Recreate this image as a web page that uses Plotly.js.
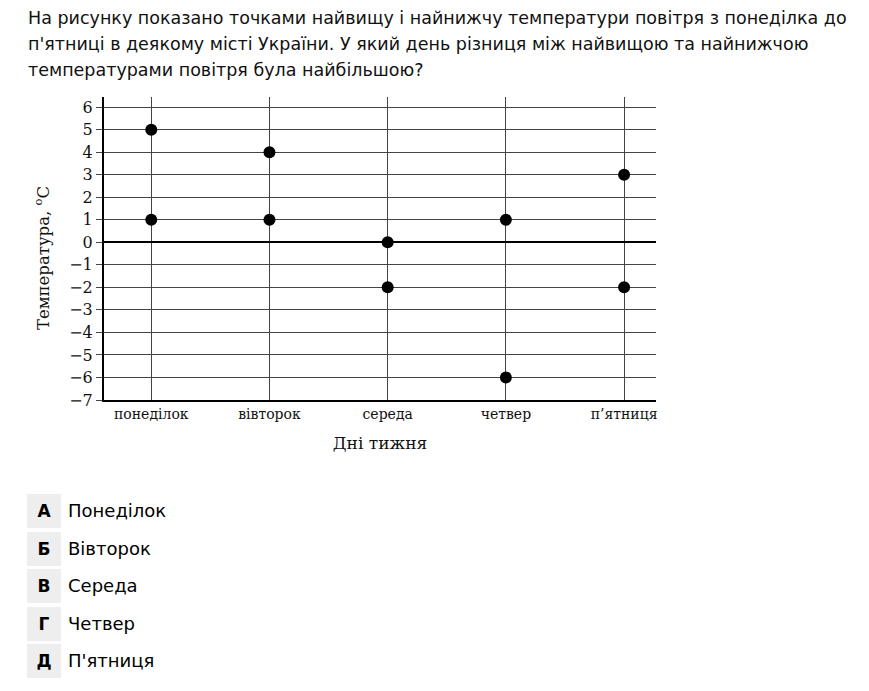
<!DOCTYPE html>
<html><head><meta charset="utf-8">
<script src="https://cdn.plot.ly/plotly-3.0.1.min.js"></script>
<style>
body{margin:0;padding:0;background:#fff;width:869px;height:691px;overflow:hidden;position:relative;font-family:"DejaVu Sans",sans-serif;}
#q{position:absolute;left:28px;top:5px;font-size:17.5px;line-height:26px;color:#111;white-space:nowrap;}
#chart{position:absolute;left:0;top:0;width:869px;height:470px;}
.opt{position:absolute;left:27px;height:34px;width:34px;background:#eeeeee;font-weight:bold;font-size:17px;text-align:center;line-height:34px;color:#000;}
.optt{position:absolute;left:68px;height:34px;line-height:34px;font-size:18px;color:#000;}
</style></head><body>
<div id="chart"></div>
<div id="q">На рисунку показано точками найвищу і найнижчу температури повітря з понеділка до<br>п'ятниці в деякому місті України. У який день різниця між найвищою та найнижчою<br>температурами повітря була найбільшою?</div>
<div id="opts"></div>
<script>
const days = ["понеділок", "вівторок", "середа", "четвер", "п’ятниця"];
const highTemps = [5, 4, 0, 1, 3];
const lowTemps = [1, 1, -2, -6, -2];
const yTicks = [-7, -6, -5, -4, -3, -2, -1, 0, 1, 2, 3, 4, 5, 6];
const optLetters = ["А", "Б", "В", "Г", "Д"];
const optTexts = ["Понеділок", "Вівторок", "Середа", "Четвер", "П'ятниця"];

const optsDiv = document.getElementById('opts');
optLetters.forEach((l, i) => {
  const top = 494 + i * 37.6;
  const b = document.createElement('div'); b.className = 'opt'; b.style.top = top + 'px'; b.textContent = l; optsDiv.appendChild(b);
  const t = document.createElement('div'); t.className = 'optt'; t.style.top = top + 'px'; t.textContent = optTexts[i]; optsDiv.appendChild(t);
});

const serif = "DejaVu Serif, Liberation Serif, serif";
const markerStyle = {color: '#000', size: 12};
const traces = [
  {x: days, y: highTemps, type: 'scatter', mode: 'markers', marker: markerStyle, cliponaxis: false, hoverinfo: 'skip'},
  {x: days, y: lowTemps, type: 'scatter', mode: 'markers', marker: markerStyle, cliponaxis: false, hoverinfo: 'skip'}
];
const layout = {
  width: 869, height: 470,
  margin: {l: 104, r: 213, t: 97, b: 70},
  paper_bgcolor: 'rgba(0,0,0,0)', plot_bgcolor: 'rgba(0,0,0,0)',
  showlegend: false,
  xaxis: {
    type: 'category', categoryorder: 'array', categoryarray: days,
    range: [-0.4, 4.27], fixedrange: true,
    showgrid: true, gridcolor: '#444', gridwidth: 1,
    showline: true, linecolor: '#000', linewidth: 2,
    ticks: '', tickfont: {family: serif, size: 14, color: '#111'},
    ticklabelstandoff: 0,
    title: {text: 'Дні тижня', font: {family: serif, size: 17, color: '#111'}, standoff: 16}
  },
  yaxis: {
    range: [-7, 6.45], fixedrange: true,
    tickvals: yTicks,
    showgrid: true, gridcolor: '#444', gridwidth: 1,
    zeroline: true, zerolinecolor: '#000', zerolinewidth: 2,
    showline: true, linecolor: '#000', linewidth: 2,
    ticks: 'outside', ticklen: 6, tickcolor: '#444', tickwidth: 1,
    tickfont: {family: serif, size: 16, color: '#111'}
  },
  annotations: [{
    text: 'Температура, <sup>o</sup>С', xref: 'paper', yref: 'paper',
    x: (42 - 104) / 552, y: (400 - 258) / 303, xanchor: 'center', yanchor: 'middle',
    textangle: -90, showarrow: false, font: {family: serif, size: 16.5, color: '#111'}
  }]
};
Plotly.newPlot('chart', traces, layout, {staticPlot: true, displayModeBar: false});
</script>
</body></html>
